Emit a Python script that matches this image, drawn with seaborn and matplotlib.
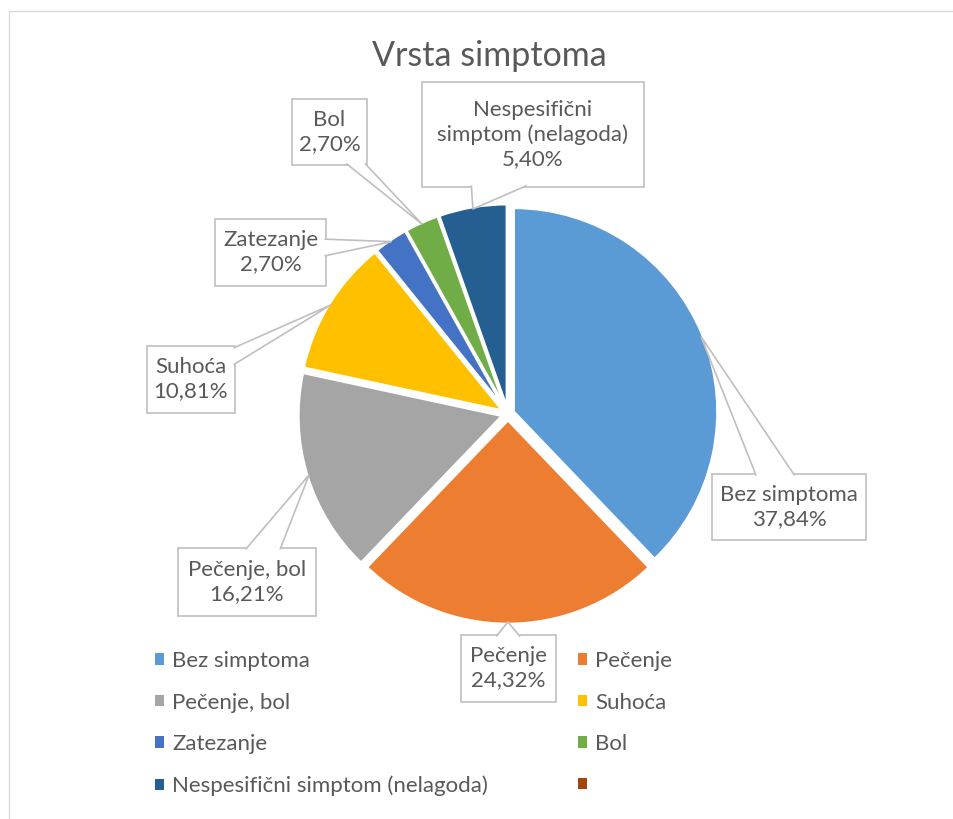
import matplotlib
matplotlib.use("Agg")
import math
import matplotlib.pyplot as plt
from matplotlib.patches import Rectangle, Polygon, Patch
import seaborn as sns

# values (percent of respondents)
categories = ["Bez simptoma", "Pečenje", "Pečenje, bol", "Suhoća", "Zatezanje", "Bol",
              "Nespesifični simptom (nelagoda)", ""]
shares = [37.84, 24.32, 16.21, 10.81, 2.70, 2.70, 5.40, 0.0]
colors = ["#5B9BD5", "#ED7D31", "#A5A5A5", "#FFC000", "#4472C4", "#70AD47", "#255E91", "#9E480E"]
# callout names (long one wrapped like in the original)
callout_names = ["Bez simptoma", "Pečenje", "Pečenje, bol", "Suhoća", "Zatezanje", "Bol",
                 "Nespesifični\nsimptom (nelagoda)"]

# layout of the callout boxes in pixels: left, top, right, bottom (y from top)
boxes = [(712, 474, 866, 540), (461, 635, 556, 702), (178, 548, 316, 616),
         (147, 346, 235, 413), (215, 219, 326, 286), (292, 99, 367, 165),
         (422, 82, 644, 187)]

W, H = 954, 819
sns.set_style("white")
plt.rcParams["font.family"] = ["Lato", "DejaVu Sans"]
txt = "#595959"
edge = "#BFBFBF"

fig = plt.figure(figsize=(W / 100, H / 100), dpi=100)
ax = fig.add_axes([0, 0, 1, 1])

R = 204
cx, cy = 508, H - 414
wedges, _ = ax.pie(shares, colors=colors, startangle=90, counterclock=False,
                   center=(cx, cy), radius=R, explode=[6] * len(shares),
                   wedgeprops=dict(edgecolor="white", linewidth=2))
ax.set_xlim(0, W)
ax.set_ylim(0, H)
ax.set_aspect("equal")
ax.axis("off")


def pct(v):
    return f"{v:.2f}".replace(".", ",") + "%"


# callouts: box + wedge-shaped pointer to the slice
for i, name in enumerate(callout_names):
    w = wedges[i]
    th = math.radians((w.theta1 + w.theta2) / 2)
    tip = (w.center[0] + 0.99 * R * math.cos(th), w.center[1] + 0.99 * R * math.sin(th))
    l, t, r, b = boxes[i]
    x0, x1, y0, y1 = l, r, H - b, H - t
    ax.add_patch(Rectangle((x0, y0), x1 - x0, y1 - y0, facecolor="white",
                           edgecolor=edge, lw=1.2, zorder=3))
    bx, by = (x0 + x1) / 2, (y0 + y1) / 2
    dx, dy = tip[0] - bx, tip[1] - by
    hw, hh = (x1 - x0) / 2, (y1 - y0) / 2
    if abs(dx) * hh > abs(dy) * hw:
        ex = x0 if dx < 0 else x1
        ey = by + dy * (ex - bx) / dx
        half = 0.125 * (y1 - y0)
        ey = min(max(ey, y0 + half + 2), y1 - half - 2)
        ins = 1.5 if dx < 0 else -1.5
        p1, p2 = (ex + ins, ey - half), (ex + ins, ey + half)
    else:
        ey = y0 if dy < 0 else y1
        ex = bx + 0.8 * dx * (ey - by) / dy
        half = 0.125 * (x1 - x0)
        ex = min(max(ex, x0 + half + 2), x1 - half - 2)
        ins = 1.5 if dy < 0 else -1.5
        p1, p2 = (ex - half, ey + ins), (ex + half, ey + ins)
    ax.add_patch(Polygon([p1, tip, p2], closed=False, facecolor="white",
                         edgecolor=edge, lw=1.2, zorder=4))
    ax.text(bx, by, name + "\n" + pct(shares[i]), ha="center", va="center",
            fontsize=16, color=txt, linespacing=1.25, zorder=5)

ax.text(489, H - 56, "Vrsta simptoma", ha="center", va="center", fontsize=24.5, color=txt)

# legend in two columns, row-wise order like Excel
handles = [Patch(facecolor=c, edgecolor="none") for c in colors]
leg_kw = dict(frameon=False, fontsize=16, labelcolor=txt, handlelength=0.42,
              handleheight=0.42, handletextpad=0.35, labelspacing=0.97, borderpad=0,
              borderaxespad=0, loc="upper left", bbox_transform=ax.transData)
left_idx = [0, 2, 4, 6]
right_idx = [1, 3, 5, 7]
leg1 = ax.legend([handles[i] for i in left_idx], [categories[i] for i in left_idx],
                 bbox_to_anchor=(155, H - 651), **leg_kw)
ax.add_artist(leg1)
ax.legend([handles[i] for i in right_idx], [categories[i] for i in right_idx],
          bbox_to_anchor=(578, H - 651), **leg_kw)

# chart area border
ax.add_patch(Rectangle((9, -10), W + 10, H - 10.5 + 10, fill=False,
                       edgecolor="#D9D9D9", lw=1, clip_on=False))

fig.savefig("out.png", dpi=100)
